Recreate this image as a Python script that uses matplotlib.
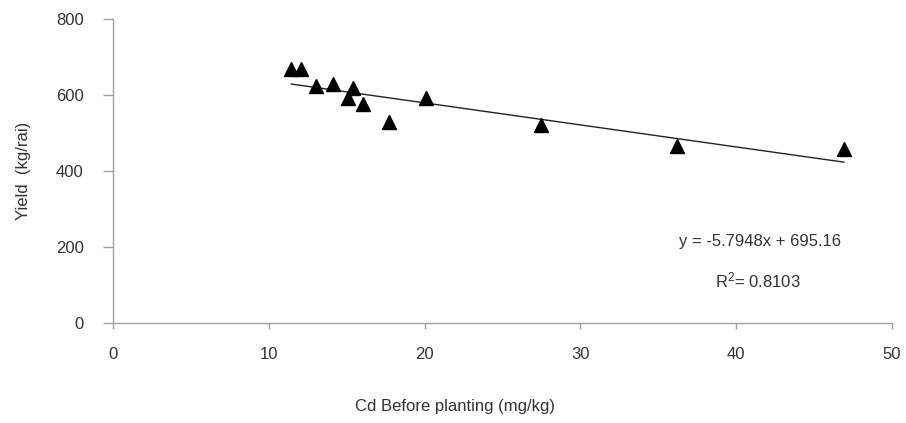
import matplotlib
matplotlib.use("Agg")
import matplotlib.pyplot as plt

plt.rcParams['font.family'] = ['Liberation Sans', 'DejaVu Sans']
plt.rcParams['mathtext.fontset'] = 'custom'
plt.rcParams['mathtext.rm'] = 'Liberation Sans'
plt.rcParams['mathtext.it'] = 'Liberation Sans'

# Data
cd_before = [11.45, 12.04, 13.0, 14.1, 15.06, 15.42, 16.07, 17.74, 20.06, 27.5, 36.2, 46.9]
yield_kg = [669, 669, 624, 629, 591, 618, 577, 529, 591, 520, 466, 459]
slope = -5.7948
intercept = 695.16
r2 = 0.8103
x_ticks = [0, 10, 20, 30, 40, 50]
y_ticks = [0, 200, 400, 600, 800]

FS = 12
TXT = '#333333'

fig = plt.figure(figsize=(9.06, 4.23), dpi=100)
ax = fig.add_axes([113/906, (423-323)/423, (892-113)/906, (323-19)/423])

ax.plot(cd_before, yield_kg, linestyle='none', marker='^', markersize=10,
        color='black', zorder=3)
xmin, xmax = min(cd_before), max(cd_before)
ax.plot([xmin, xmax], [slope*xmin + intercept, slope*xmax + intercept],
        color='#222222', lw=1.0, zorder=2)

ax.set_xlim(0, 50)
ax.set_ylim(0, 800)
ax.set_xticks(x_ticks)
ax.set_yticks(y_ticks)

spine_c = '#a0a0a0'
for s in ['top', 'right']:
    ax.spines[s].set_visible(False)
for s in ['left', 'bottom']:
    ax.spines[s].set_color(spine_c)
    ax.spines[s].set_linewidth(1.0)
ax.tick_params(axis='x', direction='out', length=4, width=1, color=spine_c,
               pad=13, labelsize=FS, labelcolor=TXT)
ax.tick_params(axis='y', direction='out', length=7, width=1, color=spine_c,
               pad=14, labelsize=FS, labelcolor=TXT)

ax.set_xlabel('Cd Before planting (mg/kg)', fontsize=FS, color=TXT)
ax.xaxis.label.set_va('center')
ax.xaxis.set_label_coords((455-113)/779, (323-406)/304)
ax.set_ylabel('Yield  (kg/rai)', fontsize=FS, color=TXT)
ax.yaxis.label.set_va('center')
ax.yaxis.set_label_coords((23-113)/779, 0.5)

ax.text((760-113)/779, (323-241)/304, f'y = {slope}x + {intercept}',
        transform=ax.transAxes, ha='center', va='center', fontsize=FS,
        color=TXT)
ax.text((758-113)/779, (323-280)/304, f'R$^2$= {r2}',
        transform=ax.transAxes, ha='center', va='center', fontsize=FS,
        color=TXT)

fig.savefig('out.png', dpi=100)
